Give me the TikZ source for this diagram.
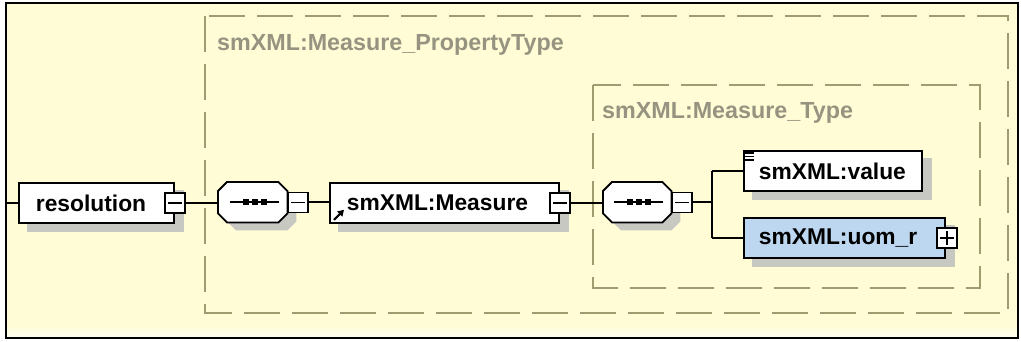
\documentclass[tikz,border=0pt]{standalone}
\usepackage{fontspec}
\setmainfont{Liberation Sans}
\usetikzlibrary{arrows.meta}
\definecolor{bgc}{RGB}{255,252,214}
\definecolor{dashc}{RGB}{160,156,112}
\definecolor{titlec}{RGB}{150,148,128}
\definecolor{shadowc}{RGB}{200,200,194}
\definecolor{bluec}{RGB}{190,215,240}
\newcommand\elemfont{\fontsize{22.8}{26}\selectfont\bfseries}
\newcommand\titlefont{\fontsize{23.3}{27}\selectfont\bfseries}
\newcommand\seqoct[3]{([shift={(#2+9,#3)}]#1.north west) -- ([shift={(#2-9,#3)}]#1.north east) -- ([shift={(#2,#3+9)}]#1.north east) -- ([shift={(#2,#3-9)}]#1.south east) -- ([shift={(#2-9,#3)}]#1.south east) -- ([shift={(#2+9,#3)}]#1.south west) -- ([shift={(#2,#3-9)}]#1.south west) -- ([shift={(#2,#3+9)}]#1.north west) -- cycle}
\pgfdeclarelayer{bglayer}
\pgfdeclarelayer{shadowlayer}
\pgfsetlayers{bglayer,shadowlayer,main}
\begin{document}
\begin{tikzpicture}[x=1pt,y=-1pt,
  elem/.style={draw=black, line width=1.8pt, fill=white, anchor=north west,
    minimum height=40pt, inner ysep=0pt, align=left, font=\elemfont},
  seqnode/.style={minimum width=69pt, minimum height=40pt, inner sep=0pt, anchor=north west},
  ctrl/.style={draw=black, line width=1.4pt, fill=white, minimum size=20pt, inner sep=0pt},
  minusbox/.style={ctrl, path picture={\draw[line width=1.4pt]
    ([xshift=-7pt]path picture bounding box.center) -- ([xshift=7pt]path picture bounding box.center);}},
  plusbox/.style={ctrl, path picture={\draw[line width=1.4pt]
    ([xshift=-7pt]path picture bounding box.center) -- ([xshift=7pt]path picture bounding box.center)
    ([yshift=-7pt]path picture bounding box.center) -- ([yshift=7pt]path picture bounding box.center);}},
  conn/.style={draw=black, line width=1.5pt},
  dashbox/.style={draw=dashc, line width=2pt, dash pattern=on 36pt off 12pt},
  boxtitle/.style={anchor=west, inner sep=0pt, text=titlec, font=\titlefont},
  shadow/.style={fill=shadowc}
]
\useasboundingbox (0,0) rectangle (1021,341);
\begin{pgfonlayer}{bglayer}
  \fill[white] (0,0) rectangle (1021,341);
  \fill[bgc] (6,3) rectangle (1018,338);
  \shade[top color=bgc, bottom color=white!70!bgc] (6,326) rectangle (1018,338);
  \draw[dashbox] (205,16) rectangle (1008,313);
  \draw[dashbox] (593,85) rectangle (980,288);
\end{pgfonlayer}
\draw[black, line width=2.5pt] (6,3) rectangle (1018,338);
\coordinate (fl) at (6,0);

\node[boxtitle] (t1) at (217,45) {smXML:Measure\_PropertyType};
\node[boxtitle] (t2) at (602,113) {smXML:Measure\_Type};

% elements
\node[elem, text width=121pt, inner xsep=17pt] (res) at (18,182) {resolution};
\node[seqnode] (s1) at (218,182) {};
\node[elem, text width=195pt, inner xsep=17pt] (mea) at (329,182) {smXML:Measure};
\node[seqnode, minimum width=68pt] (s2) at (603,182) {};
\node[elem, text width=148pt, inner xsep=15pt] (val) at (743,150) {smXML:value};
\node[elem, fill=bluec, text width=171pt, inner xsep=15pt] (uom) at (743,217) {smXML:uom\_r};

% sequence octagons
\draw[line width=1.8pt, fill=white] \seqoct{s1}{0}{0};
\draw[line width=1.8pt, fill=white] \seqoct{s2}{0}{0};
\foreach \s in {s1,s2}{
  \draw[line width=1.5pt] ([xshift=-23pt]\s.center) -- ([xshift=26pt]\s.center);
  \foreach \d in {-7,2,11}
    \fill ([xshift=\d pt]\s.center) +(-3,-3) rectangle +(3,3);
}

% shadows
\begin{pgfonlayer}{shadowlayer}
  \foreach \n in {res,mea,val,uom}
    \fill[shadow] ([shift={(9,8)}]\n.north west) rectangle ([shift={(9,8)}]\n.south east);
  \fill[shadow] \seqoct{s1}{9}{8};
  \fill[shadow] \seqoct{s2}{9}{8};
\end{pgfonlayer}

% collapse / expand controls
\node[minusbox] (c1) at (res.east) {};
\node[minusbox, anchor=west] (c2) at (s1.east) {};
\node[minusbox] (c3) at (mea.east) {};
\node[minusbox, anchor=west] (c4) at (s2.east) {};
\node[plusbox] (c5) at ([xshift=1pt]uom.east) {};

% icons
\draw[line width=2.2pt, -{Triangle[length=6pt,width=7pt]}] ([shift={(5,-4)}]mea.south west) -- ([shift={(15,-14)}]mea.south west);
\foreach \k in {3,6.5,10}
  \draw[line width=1.4pt] ([shift={(2,\k)}]val.north west) -- ([shift={(11,\k)}]val.north west);

% connectors
\draw[conn] (res.west -| fl) -- (res.west);
\draw[conn] (c1.east) -- (c1.east -| s1.west);
\draw[conn] (c2.east) -- (c2.east -| mea.west);
\draw[conn] (c3.east) -- (c3.east -| s2.west);
\coordinate (br) at ([xshift=19pt]c4.east);
\draw[conn] (c4.east) -- (br);
\draw[conn] (br |- val.west) -- (br |- uom.west);
\draw[conn] (br |- val.west) -- (val.west);
\draw[conn] (br |- uom.west) -- (uom.west);
\end{tikzpicture}
\end{document}
